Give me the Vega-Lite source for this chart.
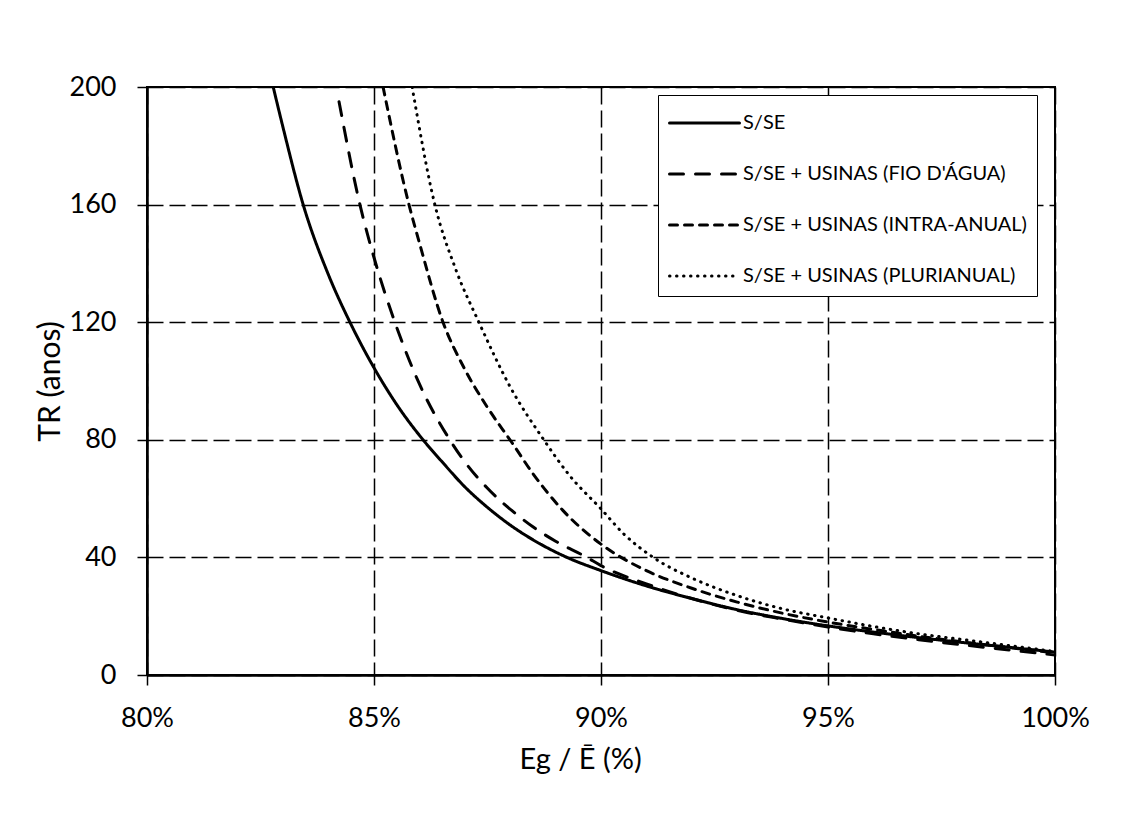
{
  "$schema": "https://vega.github.io/schema/vega-lite/v6.json",
  "width": 908,
  "height": 588,
  "autosize": "none",
  "padding": {"left": 147, "top": 87, "right": 75, "bottom": 147},
  "background": "white",
  "config": {
    "font": "Lato",
    "view": {"stroke": "black", "strokeWidth": 2},
    "axis": {
      "domainColor": "black",
      "tickColor": "black",
      "gridColor": "black",
      "labelColor": "black",
      "titleColor": "black",
      "labelFont": "Lato",
      "titleFont": "Lato",
      "titleFontWeight": "normal",
      "labelFlush": false,
      "labelOverlap": false
    }
  },
  "data": {
    "values": [
      {"serie": "S/SE", "x": 82.78, "tr": 200},
      {"serie": "S/SE", "x": 83.0, "tr": 186},
      {"serie": "S/SE", "x": 83.44, "tr": 160},
      {"serie": "S/SE", "x": 84.0, "tr": 136},
      {"serie": "S/SE", "x": 84.47, "tr": 120},
      {"serie": "S/SE", "x": 85.0, "tr": 104.5},
      {"serie": "S/SE", "x": 85.5, "tr": 92},
      {"serie": "S/SE", "x": 86.08, "tr": 80},
      {"serie": "S/SE", "x": 86.5, "tr": 72.5},
      {"serie": "S/SE", "x": 87.0, "tr": 64},
      {"serie": "S/SE", "x": 87.5, "tr": 57},
      {"serie": "S/SE", "x": 88.0, "tr": 51},
      {"serie": "S/SE", "x": 88.5, "tr": 46},
      {"serie": "S/SE", "x": 89.25, "tr": 40},
      {"serie": "S/SE", "x": 90.0, "tr": 35.5},
      {"serie": "S/SE", "x": 91.0, "tr": 30.3},
      {"serie": "S/SE", "x": 92.0, "tr": 26},
      {"serie": "S/SE", "x": 93.0, "tr": 22.2},
      {"serie": "S/SE", "x": 94.0, "tr": 19.2},
      {"serie": "S/SE", "x": 95.0, "tr": 16.7},
      {"serie": "S/SE", "x": 96.0, "tr": 14.6},
      {"serie": "S/SE", "x": 97.0, "tr": 12.7},
      {"serie": "S/SE", "x": 98.0, "tr": 11},
      {"serie": "S/SE", "x": 99.0, "tr": 9.4},
      {"serie": "S/SE", "x": 100.0, "tr": 7.8},
      {"serie": "S/SE + USINAS (FIO D'ÁGUA)", "x": 84.23, "tr": 195},
      {"serie": "S/SE + USINAS (FIO D'ÁGUA)", "x": 84.69, "tr": 160},
      {"serie": "S/SE + USINAS (FIO D'ÁGUA)", "x": 85.0, "tr": 142},
      {"serie": "S/SE + USINAS (FIO D'ÁGUA)", "x": 85.46, "tr": 120},
      {"serie": "S/SE + USINAS (FIO D'ÁGUA)", "x": 86.0, "tr": 99},
      {"serie": "S/SE + USINAS (FIO D'ÁGUA)", "x": 86.67, "tr": 80},
      {"serie": "S/SE + USINAS (FIO D'ÁGUA)", "x": 87.0, "tr": 72.5},
      {"serie": "S/SE + USINAS (FIO D'ÁGUA)", "x": 87.5, "tr": 63.5},
      {"serie": "S/SE + USINAS (FIO D'ÁGUA)", "x": 88.15, "tr": 54.5},
      {"serie": "S/SE + USINAS (FIO D'ÁGUA)", "x": 88.5, "tr": 50.4},
      {"serie": "S/SE + USINAS (FIO D'ÁGUA)", "x": 89.0, "tr": 45.5},
      {"serie": "S/SE + USINAS (FIO D'ÁGUA)", "x": 89.69, "tr": 40},
      {"serie": "S/SE + USINAS (FIO D'ÁGUA)", "x": 90.0, "tr": 37.2},
      {"serie": "S/SE + USINAS (FIO D'ÁGUA)", "x": 91.0, "tr": 31},
      {"serie": "S/SE + USINAS (FIO D'ÁGUA)", "x": 92.0, "tr": 26},
      {"serie": "S/SE + USINAS (FIO D'ÁGUA)", "x": 93.0, "tr": 22},
      {"serie": "S/SE + USINAS (FIO D'ÁGUA)", "x": 94.0, "tr": 19},
      {"serie": "S/SE + USINAS (FIO D'ÁGUA)", "x": 95.0, "tr": 16.3},
      {"serie": "S/SE + USINAS (FIO D'ÁGUA)", "x": 96.0, "tr": 14},
      {"serie": "S/SE + USINAS (FIO D'ÁGUA)", "x": 97.0, "tr": 12},
      {"serie": "S/SE + USINAS (FIO D'ÁGUA)", "x": 98.0, "tr": 10.2},
      {"serie": "S/SE + USINAS (FIO D'ÁGUA)", "x": 99.0, "tr": 8.5},
      {"serie": "S/SE + USINAS (FIO D'ÁGUA)", "x": 100.0, "tr": 6.8},
      {"serie": "S/SE + USINAS (INTRA-ANUAL)", "x": 85.2, "tr": 200},
      {"serie": "S/SE + USINAS (INTRA-ANUAL)", "x": 85.77, "tr": 160},
      {"serie": "S/SE + USINAS (INTRA-ANUAL)", "x": 86.0, "tr": 147},
      {"serie": "S/SE + USINAS (INTRA-ANUAL)", "x": 86.52, "tr": 120},
      {"serie": "S/SE + USINAS (INTRA-ANUAL)", "x": 87.0, "tr": 104},
      {"serie": "S/SE + USINAS (INTRA-ANUAL)", "x": 87.5, "tr": 91},
      {"serie": "S/SE + USINAS (INTRA-ANUAL)", "x": 88.04, "tr": 79},
      {"serie": "S/SE + USINAS (INTRA-ANUAL)", "x": 88.5, "tr": 68.5},
      {"serie": "S/SE + USINAS (INTRA-ANUAL)", "x": 89.16, "tr": 56},
      {"serie": "S/SE + USINAS (INTRA-ANUAL)", "x": 90.0, "tr": 44.5},
      {"serie": "S/SE + USINAS (INTRA-ANUAL)", "x": 91.0, "tr": 35.5},
      {"serie": "S/SE + USINAS (INTRA-ANUAL)", "x": 92.0, "tr": 29.5},
      {"serie": "S/SE + USINAS (INTRA-ANUAL)", "x": 93.0, "tr": 24.8},
      {"serie": "S/SE + USINAS (INTRA-ANUAL)", "x": 94.0, "tr": 21},
      {"serie": "S/SE + USINAS (INTRA-ANUAL)", "x": 95.0, "tr": 18},
      {"serie": "S/SE + USINAS (INTRA-ANUAL)", "x": 96.0, "tr": 15.5},
      {"serie": "S/SE + USINAS (INTRA-ANUAL)", "x": 97.0, "tr": 13.2},
      {"serie": "S/SE + USINAS (INTRA-ANUAL)", "x": 98.0, "tr": 11.2},
      {"serie": "S/SE + USINAS (INTRA-ANUAL)", "x": 99.0, "tr": 9.3},
      {"serie": "S/SE + USINAS (INTRA-ANUAL)", "x": 100.0, "tr": 7.5},
      {"serie": "S/SE + USINAS (PLURIANUAL)", "x": 85.84, "tr": 200},
      {"serie": "S/SE + USINAS (PLURIANUAL)", "x": 86.34, "tr": 160},
      {"serie": "S/SE + USINAS (PLURIANUAL)", "x": 86.8, "tr": 138},
      {"serie": "S/SE + USINAS (PLURIANUAL)", "x": 87.31, "tr": 120},
      {"serie": "S/SE + USINAS (PLURIANUAL)", "x": 88.0, "tr": 98},
      {"serie": "S/SE + USINAS (PLURIANUAL)", "x": 88.74, "tr": 80},
      {"serie": "S/SE + USINAS (PLURIANUAL)", "x": 89.3, "tr": 68},
      {"serie": "S/SE + USINAS (PLURIANUAL)", "x": 90.0, "tr": 56.5},
      {"serie": "S/SE + USINAS (PLURIANUAL)", "x": 90.5, "tr": 48},
      {"serie": "S/SE + USINAS (PLURIANUAL)", "x": 91.15, "tr": 40},
      {"serie": "S/SE + USINAS (PLURIANUAL)", "x": 92.0, "tr": 33},
      {"serie": "S/SE + USINAS (PLURIANUAL)", "x": 93.0, "tr": 27},
      {"serie": "S/SE + USINAS (PLURIANUAL)", "x": 94.0, "tr": 22.5},
      {"serie": "S/SE + USINAS (PLURIANUAL)", "x": 95.0, "tr": 19.4},
      {"serie": "S/SE + USINAS (PLURIANUAL)", "x": 96.0, "tr": 16.5},
      {"serie": "S/SE + USINAS (PLURIANUAL)", "x": 97.0, "tr": 14},
      {"serie": "S/SE + USINAS (PLURIANUAL)", "x": 98.0, "tr": 12},
      {"serie": "S/SE + USINAS (PLURIANUAL)", "x": 99.0, "tr": 10},
      {"serie": "S/SE + USINAS (PLURIANUAL)", "x": 100.0, "tr": 8}
    ]
  },
  "mark": {"type": "line", "color": "black", "strokeWidth": 3, "strokeCap": "round", "interpolate": "monotone", "clip": true},
  "encoding": {
    "x": {
      "field": "x",
      "type": "quantitative",
      "scale": {"domain": [80, 100], "nice": false, "zero": false},
      "axis": {
        "values": [80, 85, 90, 95, 100],
        "labelExpr": "datum.value + '%'",
        "title": "Eg / Ē (%)",
        "labelFontSize": 27,
        "titleFontSize": 29,
        "titleX": 433,
        "titleAlign": "center",
        "tickSize": 10,
        "tickWidth": 1.5,
        "domainWidth": 2.5,
        "labelPadding": 20,
        "titlePadding": 14,
        "gridDash": [17, 6],
        "gridWidth": 1.5
      }
    },
    "y": {
      "field": "tr",
      "type": "quantitative",
      "scale": {"domain": [0, 200], "nice": false},
      "axis": {
        "values": [0, 40, 80, 120, 160, 200],
        "title": "TR (anos)",
        "labelFontSize": 27,
        "titleFontSize": 30,
        "tickSize": 10,
        "tickWidth": 1.5,
        "domainWidth": 2.5,
        "labelPadding": 21,
        "titlePadding": 4,
        "gridDash": [16, 6],
        "gridWidth": 1.5
      }
    },
    "strokeDash": {
      "field": "serie",
      "type": "nominal",
      "scale": {
        "domain": ["S/SE", "S/SE + USINAS (FIO D'ÁGUA)", "S/SE + USINAS (INTRA-ANUAL)", "S/SE + USINAS (PLURIANUAL)"],
        "range": [[1, 0], [14, 12], [8, 7], [0.5, 6.5]]
      },
      "legend": {
        "title": null,
        "orient": "none",
        "legendX": 511,
        "legendY": 8,
        "strokeColor": "black",
        "padding": 10,
        "fillColor": "white",
        "labelFontSize": 20,
        "labelFont": "Lato",
        "labelColor": "black",
        "labelLimit": 400,
        "symbolType": "stroke",
        "symbolSize": 4900,
        "symbolStrokeWidth": 3,
        "symbolStrokeColor": "black",
        "labelOffset": 2,
        "rowPadding": 23,
        "encode": {
          "symbols": {"update": {"strokeCap": {"value": "round"}, "y": {"value": 18}}},
          "labels": {"update": {"y": {"value": 18}}}
        }
      }
    }
  }
}
